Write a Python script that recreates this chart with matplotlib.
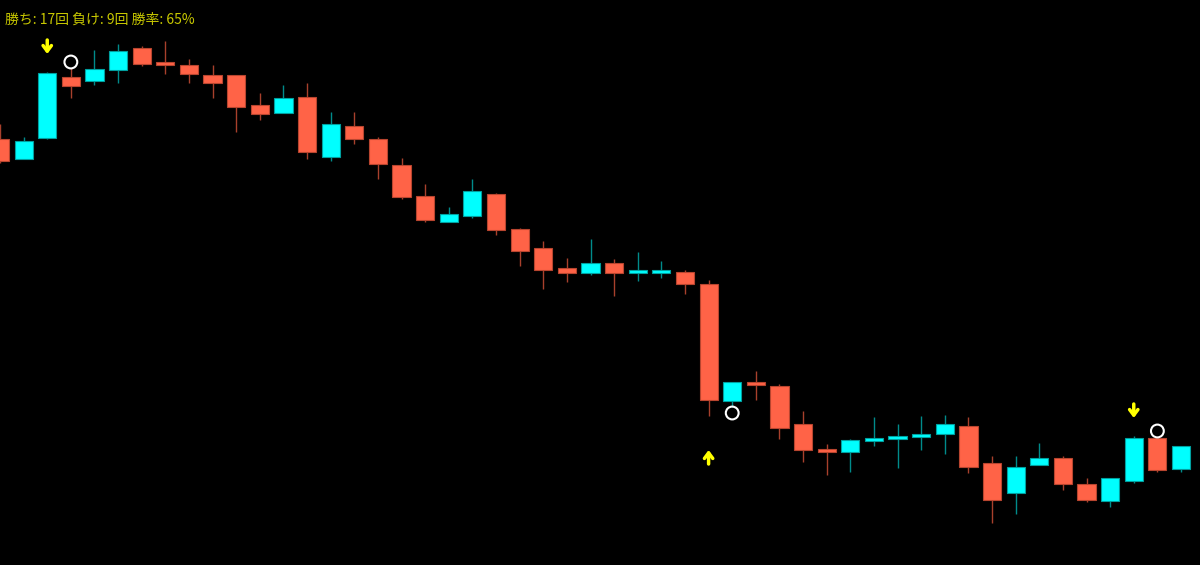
import numpy as np
import matplotlib
matplotlib.use('Agg')
import matplotlib.pyplot as plt
from matplotlib.patches import Rectangle

plt.rcParams['font.family'] = ['Noto Sans CJK JP', 'DejaVu Sans']

# ================================ DATA ==================================
opens  = [461, 441, 462, 523, 519, 530, 552, 538, 535, 525,
          525, 495, 487, 503, 443, 474, 461, 435, 404, 378,
          384, 406, 371, 352, 332, 327, 337, 327, 327, 328,
          316, 199, 218, 214, 176, 151, 148, 159, 161, 163,
          166, 174, 137, 107, 135, 142, 116, 99, 119, 162, 131]
highs  = [476, 463, 528, 532, 550, 556, 554, 559, 541, 535,
          525, 507, 515, 517, 488, 488, 463, 442, 416, 393,
          421, 407, 372, 359, 342, 361, 341, 348, 339, 330,
          320, 218, 229, 216, 189, 156, 161, 183, 176, 184,
          185, 183, 144, 144, 157, 144, 122, 122, 164, 163, 154]
lows   = [437, 441, 461, 502, 515, 517, 534, 526, 517, 502,
          468, 480, 487, 441, 439, 456, 421, 401, 378, 378,
          382, 365, 334, 311, 318, 325, 304, 319, 322, 306,
          184, 193, 200, 161, 138, 125, 128, 154, 132, 150,
          146, 127, 77, 86, 135, 110, 98, 93, 117, 128, 128]
closes = [439, 459, 527, 514, 531, 549, 536, 535, 526, 517,
          493, 486, 502, 448, 476, 461, 436, 403, 380, 386,
          409, 370, 349, 330, 327, 337, 327, 330, 330, 316,
          200, 218, 215, 172, 150, 148, 160, 162, 164, 166,
          176, 133, 100, 133, 142, 116, 100, 122, 162, 130, 154]

sell_signals = [2, 48]     # yellow down arrows
buy_signals = [30]         # yellow up arrows
exit_above = [3, 49]       # white circles above candle
exit_below = [31]          # white circles below candle

wins, losses, win_rate = 17, 9, 65

# ================================ STYLE =================================
up_body, up_wick, up_edge = '#00ffff', '#008b8b', '#00a0a0'
dn_body, dn_wick, dn_edge = '#ff6347', '#a8402c', '#b8452f'
body_w = 0.77

fig = plt.figure(figsize=(12, 5.65), dpi=100, facecolor='black')
ax = fig.add_axes([0, 0, 1, 1])
ax.set_facecolor('black')

for i, (o, h, l, c) in enumerate(zip(opens, highs, lows, closes)):
    bull = c >= o
    wick = up_wick if bull else dn_wick
    ax.vlines(i, l, h, color=wick, lw=1.0, zorder=1)
    ax.add_patch(Rectangle((i - body_w / 2, min(o, c)), body_w, max(abs(c - o), 2.5),
                           facecolor=up_body if bull else dn_body,
                           edgecolor=up_edge if bull else dn_edge, lw=0.8, zorder=2))

# arrows
arrow = dict(arrowstyle='->, head_length=0.4, head_width=0.3',
             color='#ffff00', lw=2.5, shrinkA=0, shrinkB=0)
for i in sell_signals:
    tip = highs[i] + 18
    ax.annotate('', xy=(i, tip), xytext=(i, tip + 14), arrowprops=arrow)
for i in buy_signals:
    tip = lows[i] - 34
    ax.annotate('', xy=(i, tip), xytext=(i, tip - 14), arrowprops=arrow)

# exit circles
ax.scatter(exit_above, [highs[i] + 6 for i in exit_above], s=85,
           facecolors='none', edgecolors='white', linewidths=1.5, zorder=3)
ax.scatter(exit_below, [lows[i] - 6 for i in exit_below], s=85,
           facecolors='none', edgecolors='white', linewidths=1.5, zorder=3)

ax.text(0.004, 0.978, f'勝ち: {wins}回 負け: {losses}回 勝率: {win_rate}%',
        transform=ax.transAxes, color='#c8c800', fontsize=10, va='top', ha='left')

ax.set_xlim(0, 1200 / 23.62)
ax.set_ylim(35, 600)
ax.axis('off')

fig.savefig('out.png', dpi=100, facecolor='black')
